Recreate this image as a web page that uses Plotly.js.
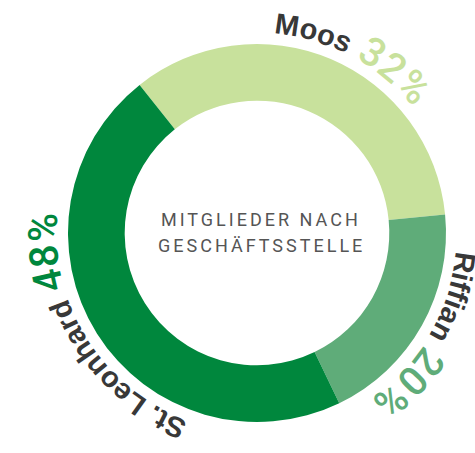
<!DOCTYPE html>
<html><head><meta charset="utf-8">
<script src="https://cdn.plot.ly/plotly-3.0.1.min.js"></script>
<style>html,body{margin:0;padding:0;background:#fff}#chart{width:475px;height:453px}</style>
</head><body><div id="chart"></div>
<script>
// ---- data ----
const branches = ['Moos', 'Riffian', 'St. Leonhard'];
const shares = [34.1, 19.4, 46.5];          // slice sizes as drawn
const shareLabels = ['32%', '20%', '48%'];  // printed percentages
const sliceColors = ['#c8e19c', '#5fac79', '#00873d'];
const centerLines = ['MITGLIEDER NACH', 'GESCHÄFTSSTELLE'];

// ---- layout / style ----
const W = 475, H = 453;
const M = {l: 68, r: 29, t: 44, b: 31};
const PW = W - M.l - M.r, PH = H - M.t - M.b;
const CX = M.l + PW / 2, CY = M.t + PH / 2;
const START_ANGLE = -38.4;
const BASE_R = 200;
const labelShift = [5, 1, 0];
const NAME_FAMILY = '"Liberation Sans", Arial, sans-serif';
const NAME_SIZE = 29, NAME_COLOR = '#383838';
const PCT_FAMILY = 'Roboto, sans-serif';
const PCT_SIZE = 40, PCT_WEIGHT = 500, PCT_SPACING = 0.3;

const canvas = document.createElement('canvas');
const ctx = canvas.getContext('2d');
function measure(str, css) { ctx.font = css; return ctx.measureText(str).width; }
function toPaper(px, py) { return [(px - M.l) / PW, 1 - (py - M.t) / PH]; }
function norm(a) { a = ((a % 360) + 360) % 360; return a > 180 ? a - 360 : a; }

const annotations = [];
const total = shares.reduce((a, b) => a + b, 0);
let cum = 0;
branches.forEach((name, i) => {
  const a0 = START_ANGLE + cum / total * 360;
  cum += shares[i];
  const a1 = START_ANGLE + cum / total * 360;
  const mid = (a0 + a1) / 2 + labelShift[i];
  const pctCss = `${PCT_WEIGHT} ${PCT_SIZE}px ${PCT_FAMILY}`;
  const segs = [
    {text: name, css: `bold ${NAME_SIZE}px ${NAME_FAMILY}`, size: NAME_SIZE, family: NAME_FAMILY, weight: 700, color: NAME_COLOR, sp: 0},
    {text: ' ', css: pctCss, size: PCT_SIZE, family: PCT_FAMILY, weight: PCT_WEIGHT, color: sliceColors[i], sp: 0},
    {text: shareLabels[i], css: pctCss, size: PCT_SIZE, family: PCT_FAMILY, weight: PCT_WEIGHT, color: sliceColors[i], sp: PCT_SPACING}
  ];
  const chars = [];
  segs.forEach(sg => {
    for (const ch of sg.text) {
      chars.push({ch, w: measure(ch, sg.css) + sg.sp, sg});
    }
  });
  const L = chars.reduce((a, c) => a + c.w, 0);
  let s = -L / 2;
  chars.forEach(c => {
    const sm = s + c.w / 2;
    s += c.w;
    if (c.ch === ' ') return;
    const th = mid + sm / BASE_R * 180 / Math.PI;
    const r = BASE_R + 0.35 * c.sg.size;
    const rad = th * Math.PI / 180;
    const [x, y] = toPaper(CX + r * Math.sin(rad), CY - r * Math.cos(rad));
    annotations.push({
      xref: 'paper', yref: 'paper', x, y, xanchor: 'center', yanchor: 'middle',
      text: c.ch, showarrow: false, textangle: norm(th),
      font: {family: c.sg.family, size: c.sg.size, color: c.sg.color, weight: c.sg.weight}
    });
  });
});

// centre title
const centerY = [219.5, 245.5];
centerLines.forEach((line, k) => {
  const [x, y] = toPaper(261, centerY[k]);
  annotations.push({
    xref: 'paper', yref: 'paper', x, y, xanchor: 'center', yanchor: 'middle',
    showarrow: false,
    text: `<span style="letter-spacing:3px">${line}</span>`,
    font: {family: 'Roboto, sans-serif', size: 18, color: '#555555'}
  });
});

const trace = {
  type: 'pie',
  labels: branches,
  values: shares,
  hole: 0.7,
  sort: false,
  direction: 'clockwise',
  rotation: START_ANGLE,
  textinfo: 'none',
  hoverinfo: 'label',
  marker: {colors: sliceColors, line: {width: 0}},
  showlegend: false
};

Plotly.newPlot('chart', [trace], {
  width: W, height: H,
  margin: M,
  paper_bgcolor: '#ffffff',
  plot_bgcolor: '#ffffff',
  showlegend: false,
  annotations
}, {displayModeBar: false, staticPlot: true});
</script>
</body></html>
